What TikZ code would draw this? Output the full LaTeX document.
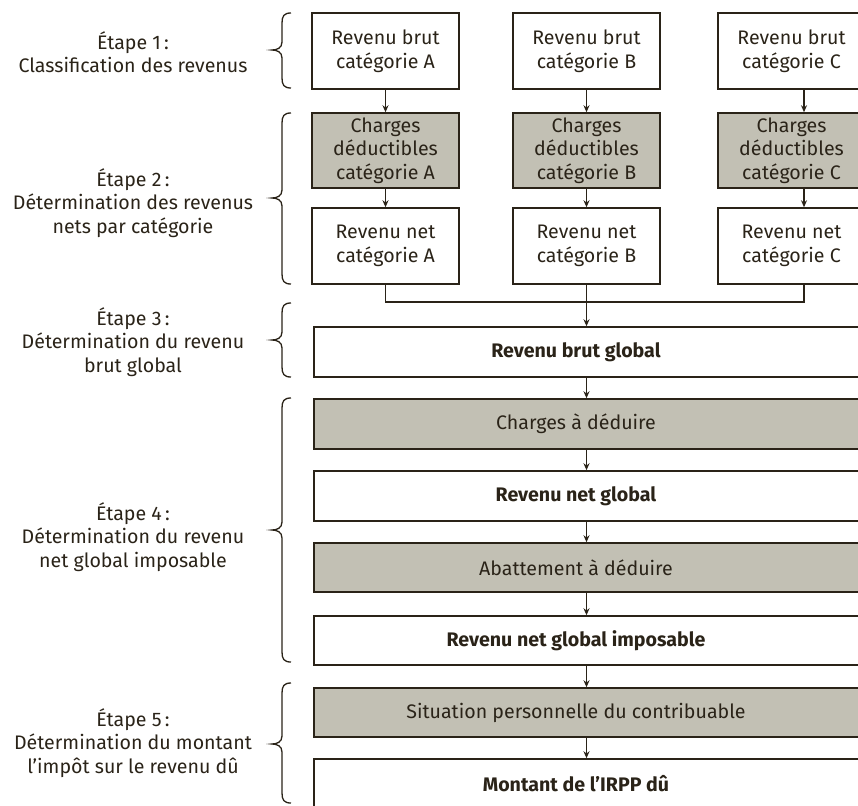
\documentclass[tikz,border=0pt]{standalone}
\usepackage{fontspec}
\setmainfont{Fira Sans}
\usetikzlibrary{arrows.meta}
\definecolor{ink}{HTML}{2A2318}
\definecolor{greyfill}{HTML}{C2C0B4}
\newcommand\mybrace[3]{%
  \draw[curly] (291,#1) .. controls (284,#1) and (282,#1+3) .. (282,#1+10)
    -- (282,#2-8) .. controls (282,#2-2) and (277,#2) .. (272,#2)
    .. controls (277,#2) and (282,#2+2) .. (282,#2+8)
    -- (282,#3-10) .. controls (282,#3-3) and (284,#3) .. (291,#3);}
\begin{document}
\begin{tikzpicture}[x=1pt,y=-1pt,
  every node/.style={text=ink,font=\fontsize{19.6}{23.5}\selectfont},
  colbox/.style={draw=ink,line width=1.5pt,minimum width=147pt,inner sep=0pt,align=center},
  widebox/.style={draw=ink,line width=1.5pt,inner sep=0pt,minimum width=560pt,anchor=west},
  grey/.style={fill=greyfill},
  lbl/.style={align=center},
  wtext/.style={inner sep=0pt},
  conn/.style={draw=ink,line width=1.4pt},
  arr/.style={conn,-{Stealth[length=7pt,width=6pt]}},
  curly/.style={draw=ink,line width=1.3pt}]
\useasboundingbox (0,0) rectangle (858,805);
\clip (0,0) rectangle (858,805);
% column boxes
\foreach \n/\x/\l in {A/385.5/A,B/586.5/B,C/791.5/C}{
  \node[colbox,minimum height=76pt] (\n1) at (\x,51) {Revenu brut\\catégorie \l};
  \node[colbox,grey,minimum height=75pt] (\n2) at (\x,150.5) {Charges\\déductibles\\catégorie \l};
  \node[colbox,minimum height=76pt] (\n3) at (\x,246) {Revenu net\\catégorie \l};
}
% wide boxes
\node[widebox,minimum height=50pt] (G1) at (313,352) {};
\node[widebox,grey,minimum height=50pt] (G2) at (313,424) {};
\node[widebox,minimum height=50pt] (G3) at (313,496) {};
\node[widebox,grey,minimum height=49pt] (G4) at (313,567.5) {};
\node[widebox,minimum height=49pt] (G5) at (313,640.5) {};
\node[widebox,grey,minimum height=49pt] (G6) at (313,712.5) {};
\node[widebox,minimum height=60pt] (G7) at (313,789) {};
% wide box texts
\node[wtext] (T1) at (576,352) {\bfseries Revenu brut global};
\node[wtext] (T2) at (576,424) {Charges à déduire};
\node[wtext] (T3) at (576,496) {\bfseries Revenu net global};
\node[wtext] (T4) at (576,567.5) {Abattement à déduire};
\node[wtext] (T5) at (576,640.5) {\bfseries Revenu net global imposable};
\node[wtext] (T6) at (576,712.5) {Situation personnelle du contribuable};
\node[wtext] (T7) at (576,784) {\bfseries Montant de l’IRPP dû};
% column arrows
\draw[arr] (A1) -- (A2);
\draw[arr] (A2) -- (A3);
\draw[arr] (B1) -- (B2);
\draw[arr] (B2) -- (B3);
\draw[arr] ([xshift=12.5pt]C1.south) -- ([xshift=12.5pt]C2.north);
\draw[arr] ([xshift=12.5pt]C2.south) -- ([xshift=12.5pt]C3.north);
% join
\coordinate (J) at (586.5,302);
\draw[conn] (A3.south) |- (J) -| ([xshift=12.5pt]C3.south);
\draw[arr] (B3.south) -- (B3.south |- G1.north);
% wide arrows
\draw[arr] (B3.south |- G1.south) -- (B3.south |- G2.north);
\draw[arr] (B3.south |- G2.south) -- (B3.south |- G3.north);
\draw[arr] (B3.south |- G3.south) -- (B3.south |- G4.north);
\draw[arr] (B3.south |- G4.south) -- (B3.south |- G5.north);
\draw[arr] (B3.south |- G5.south) -- (B3.south |- G6.north);
\draw[arr] (B3.south |- G6.south) -- (B3.south |- G7.north);
% braces
\mybrace{13}{50}{88}
\mybrace{113}{198}{284}
\mybrace{303}{340}{377}
\mybrace{398}{530}{662}
\mybrace{683}{744}{803}
% labels
\node[lbl] (L1) at (133,52) {Étape 1\,:\\Classification des revenus};
\node[lbl] (L2) at (133,203) {Étape 2\,:\\Détermination des revenus\\nets par catégorie};
\node[lbl] (L3) at (133,342) {Étape 3\,:\\Détermination du revenu\\brut global};
\node[lbl] (L4) at (133,537) {Étape 4\,:\\Détermination du revenu\\net global imposable};
\node[lbl] (L5) at (133,743) {Étape 5\,:\\Détermination du montant\\l’impôt sur le revenu dû};
\end{tikzpicture}
\end{document}
